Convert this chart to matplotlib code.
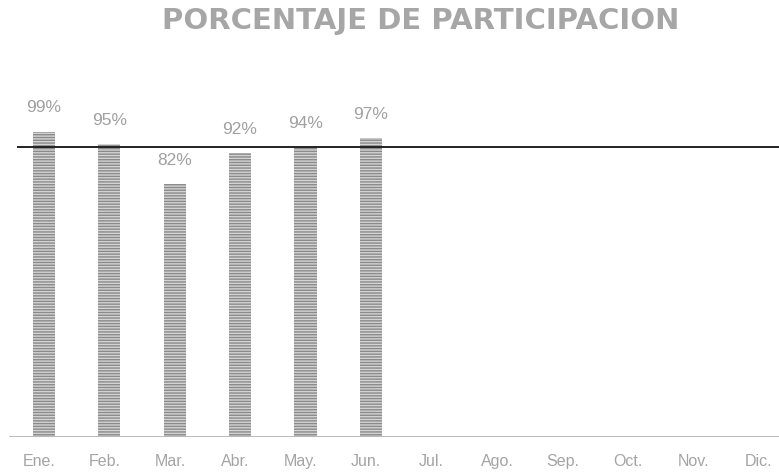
import matplotlib
matplotlib.use('Agg')
from matplotlib import pyplot as plt

meses = ['Ene.', 'Feb.', 'Mar.', 'Abr.', 'May.', 'Jun.', 'Jul.', 'Ago.', 'Sep.', 'Oct.', 'Nov.', 'Dic.']
participacion = [99, 95, 82, 92, 94, 97]
meta = 94


def report(meses, valores, meta):
    fig = plt.figure(figsize=(7.79, 4.75), dpi=100)
    fig.text(0.54, 0.955, 'PORCENTAJE DE PARTICIPACION', ha='center', va='center',
             fontsize=21, color='#a6a6a6', fontweight='bold', family='DejaVu Sans')

    ax = fig.add_axes([0, 38 / 475, 1, 370 / 475])
    x = list(range(len(valores)))
    bars = ax.bar(x, valores, width=0.34, color='#d4d4d4', edgecolor='#8a8a8a',
                  linewidth=0, hatch='------')
    for b, v in zip(bars, valores):
        ax.text(b.get_x() + b.get_width() / 2, v + 5.3, '{}%'.format(v),
                ha='center', va='bottom', fontsize=12.5, color='#a0a0a0',
                family='Liberation Sans')

    ax.axhline(meta, xmin=0.023, xmax=1, color='#222222', linewidth=1.4)
    ax.axhline(0, xmin=0.013, xmax=1, color='#b4b4b4', linewidth=2)

    ax.set_xlim(-0.67, 11.24)
    ax.set_ylim(0, 120)
    ax.set_xticks([i - 0.07 for i in range(len(meses))])
    ax.set_xticklabels(meses, fontsize=11.5, color='#a4a4a4', family='Liberation Sans')
    ax.tick_params(axis='x', length=0, pad=12)
    ax.set_yticks([])
    for s in ax.spines.values():
        s.set_visible(False)

    fig.savefig('out.png', dpi=100)


if __name__ == "__main__":
    report(meses, participacion, meta)
